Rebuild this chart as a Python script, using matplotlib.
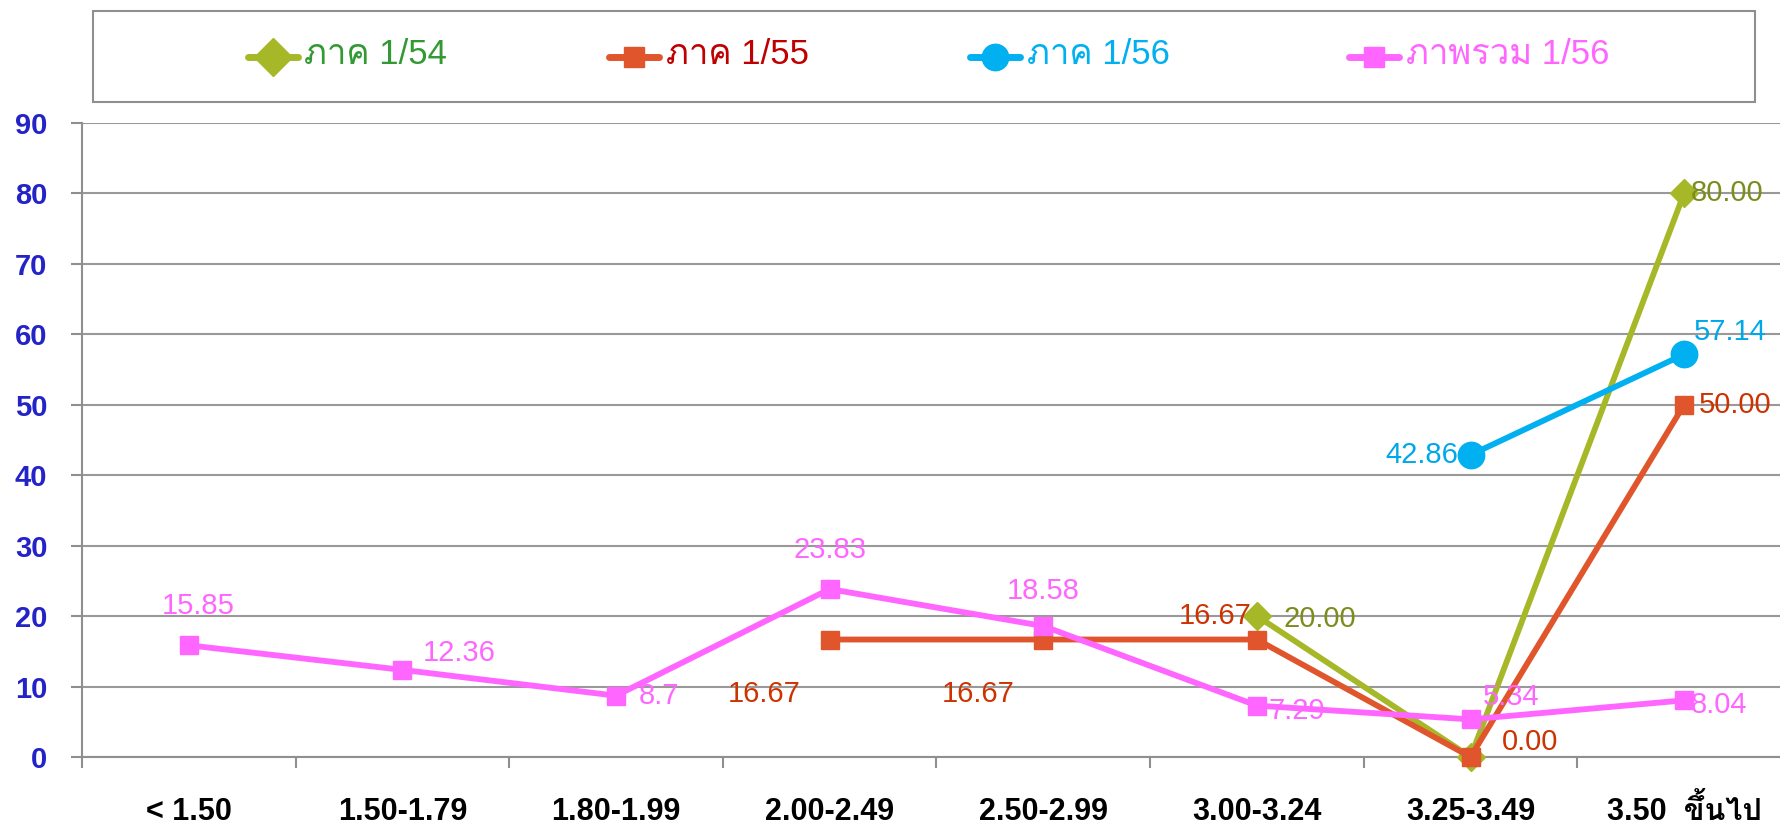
import numpy as np
import matplotlib
matplotlib.use("Agg")
import matplotlib.pyplot as plt
from matplotlib import font_manager as fm
from matplotlib.ft2font import FT2Font
from matplotlib.lines import Line2D
from matplotlib.patches import Rectangle

# ---------------- data ----------------
categories = ["< 1.50", "1.50-1.79", "1.80-1.99", "2.00-2.49", "2.50-2.99",
              "3.00-3.24", "3.25-3.49", "3.50  ขึ้นไป"]
series_names = ["ภาค 1/54", "ภาค 1/55", "ภาค 1/56", "ภาพรวม 1/56"]
nan = np.nan
s154 = [nan, nan, nan, nan, nan, 20.00, 0.00, 80.00]
s155 = [nan, nan, nan, 16.67, 16.67, 16.67, 0.00, 50.00]
s156 = [nan, nan, nan, nan, nan, nan, 42.86, 57.14]
sall = [15.85, 12.36, 8.7, 23.83, 18.58, 7.29, 5.34, 8.04]
lab154 = [None, None, None, None, None, "20.00", None, "80.00"]
lab155 = [None, None, None, "16.67", "16.67", "16.67", "0.00", "50.00"]
lab156 = [None, None, None, None, None, None, "42.86", "57.14"]
laball = ["15.85", "12.36", "8.7", "23.83", "18.58", "7.29", "5.34", "8.04"]
yticks = [0, 10, 20, 30, 40, 50, 60, 70, 80, 90]

# ---------------- fonts ----------------
def find_thai():
    best = None
    for f in fm.fontManager.ttflist:
        try:
            cm = FT2Font(f.fname).get_charmap()
        except Exception:
            continue
        if 0x0E20 in cm and 0x0E04 in cm and 0x0E02 in cm:
            if best is None:
                best = f.name
            if "sans" in f.name.lower() or "loma" in f.name.lower() or "garuda" in f.name.lower():
                return f.name
    return best

thai = find_thai()
fam = ["Liberation Sans", "DejaVu Sans"]
if thai:
    fam = ["Liberation Sans", thai, "DejaVu Sans"]
plt.rcParams["font.family"] = fam

W, H = 1781, 827
fig = plt.figure(figsize=(W / 100, H / 100), dpi=100)

def fx(px):
    return px / W

def fy(py):
    return 1 - py / H

ax = fig.add_axes([fx(82), fy(757), 1709 / W, (757 - 122.7) / H])

x = np.arange(len(categories))
olive, orange, cyan, pink = "#a6b828", "#e0552b", "#00b0f0", "#ff66ff"
styles = [
    (s154, olive, "D", 14, lab154, "#7d8c1e"),
    (s155, orange, "s", 13, lab155, "#cc3300"),
    (s156, cyan, "o", 19, lab156, "#00a8ea"),
    (sall, pink, "s", 12.5, laball, pink),
]
for vals, col, mk, ms, labs, lcol in styles:
    ax.plot(x, vals, color=col, lw=4.2, marker=mk, ms=ms, mec=col, mfc=col,
            clip_on=False, zorder=3, solid_joinstyle="miter")

# label offsets (points)
offsets = {
    0: {5: (45, -2), 7: (31, 0)},
    1: {3: (-47, -39), 4: (-47, -39), 5: (-30, 17), 6: (43, 11), 7: (37, 0)},
    2: {6: (-35, 0), 7: (33, 16)},
    3: {0: (7, 28), 1: (41, 12), 2: (31, 0), 3: (0, 28), 4: (0, 25),
        5: (29, -4), 6: (29, 16), 7: (25, -3)},
}
for si, (vals, col, mk, ms, labs, lcol) in enumerate(styles):
    for i, lab in enumerate(labs):
        if lab is None:
            continue
        dx, dy = offsets[si][i]
        ax.annotate(lab, xy=(x[i], vals[i]), xytext=(dx, dy),
                    textcoords="offset points", ha="center", va="center",
                    fontsize=21, color=lcol, zorder=5, annotation_clip=False)

ax.set_xlim(-0.5, 7.5)
ax.set_ylim(0, 90)
ax.set_yticks(yticks)
ax.set_yticklabels([str(t) for t in yticks], fontsize=21, fontweight="bold", color="#2323c8")
ax.set_xticks(x)
ax.set_xticklabels(categories, fontsize=22, fontweight="bold", color="black")
for t in ax.get_xticklabels():
    t.set_verticalalignment("baseline")
ax.set_xticks(np.arange(-0.5, 8.0, 1.0), minor=True)

gray = "#8f8f8f"
ax.yaxis.grid(True, color="#999999", lw=1.5, zorder=0)
ax.set_axisbelow(True)
for s in ["top", "right"]:
    ax.spines[s].set_visible(False)
for s in ["left", "bottom"]:
    ax.spines[s].set_color(gray)
    ax.spines[s].set_linewidth(1.5)
ax.tick_params(axis="y", direction="out", length=8, width=1.5, color=gray, pad=17)
ax.tick_params(axis="x", which="major", length=0, pad=45)
ax.tick_params(axis="x", which="minor", direction="out", length=8, width=1.5, color=gray)

# ---------------- legend (manual) ----------------
fig.add_artist(Rectangle((fx(93), fy(102)), (1755 - 93) / W, (102 - 11.4) / H,
                         transform=fig.transFigure, fill=False, edgecolor=gray, lw=1.5))
leg_pos = [(248, 298, 304), (609, 659, 666), (970, 1020, 1027), (1349, 1399, 1406)]
leg_txt_col = ["#339933", "#c00000", "#00b0f0", "#ff66ff"]
leg_ms = [19, 15, 19, 15]
for k, ((x0, x1, xt), (vals, col, mk, ms, labs, lcol)) in enumerate(zip(leg_pos, styles)):
    fig.add_artist(Line2D([fx(x0), fx(x1)], [fy(57), fy(57)], transform=fig.transFigure,
                          color=col, lw=5, solid_capstyle="round"))
    fig.add_artist(Line2D([fx((x0 + x1) / 2)], [fy(57)], transform=fig.transFigure,
                          marker=mk, ms=leg_ms[k], color=col, mec=col, mfc=col, lw=0))
    fig.text(fx(xt), fy(54), series_names[k], fontsize=25, color=leg_txt_col[k],
             ha="left", va="center")

fig.savefig("out.png", dpi=100)
